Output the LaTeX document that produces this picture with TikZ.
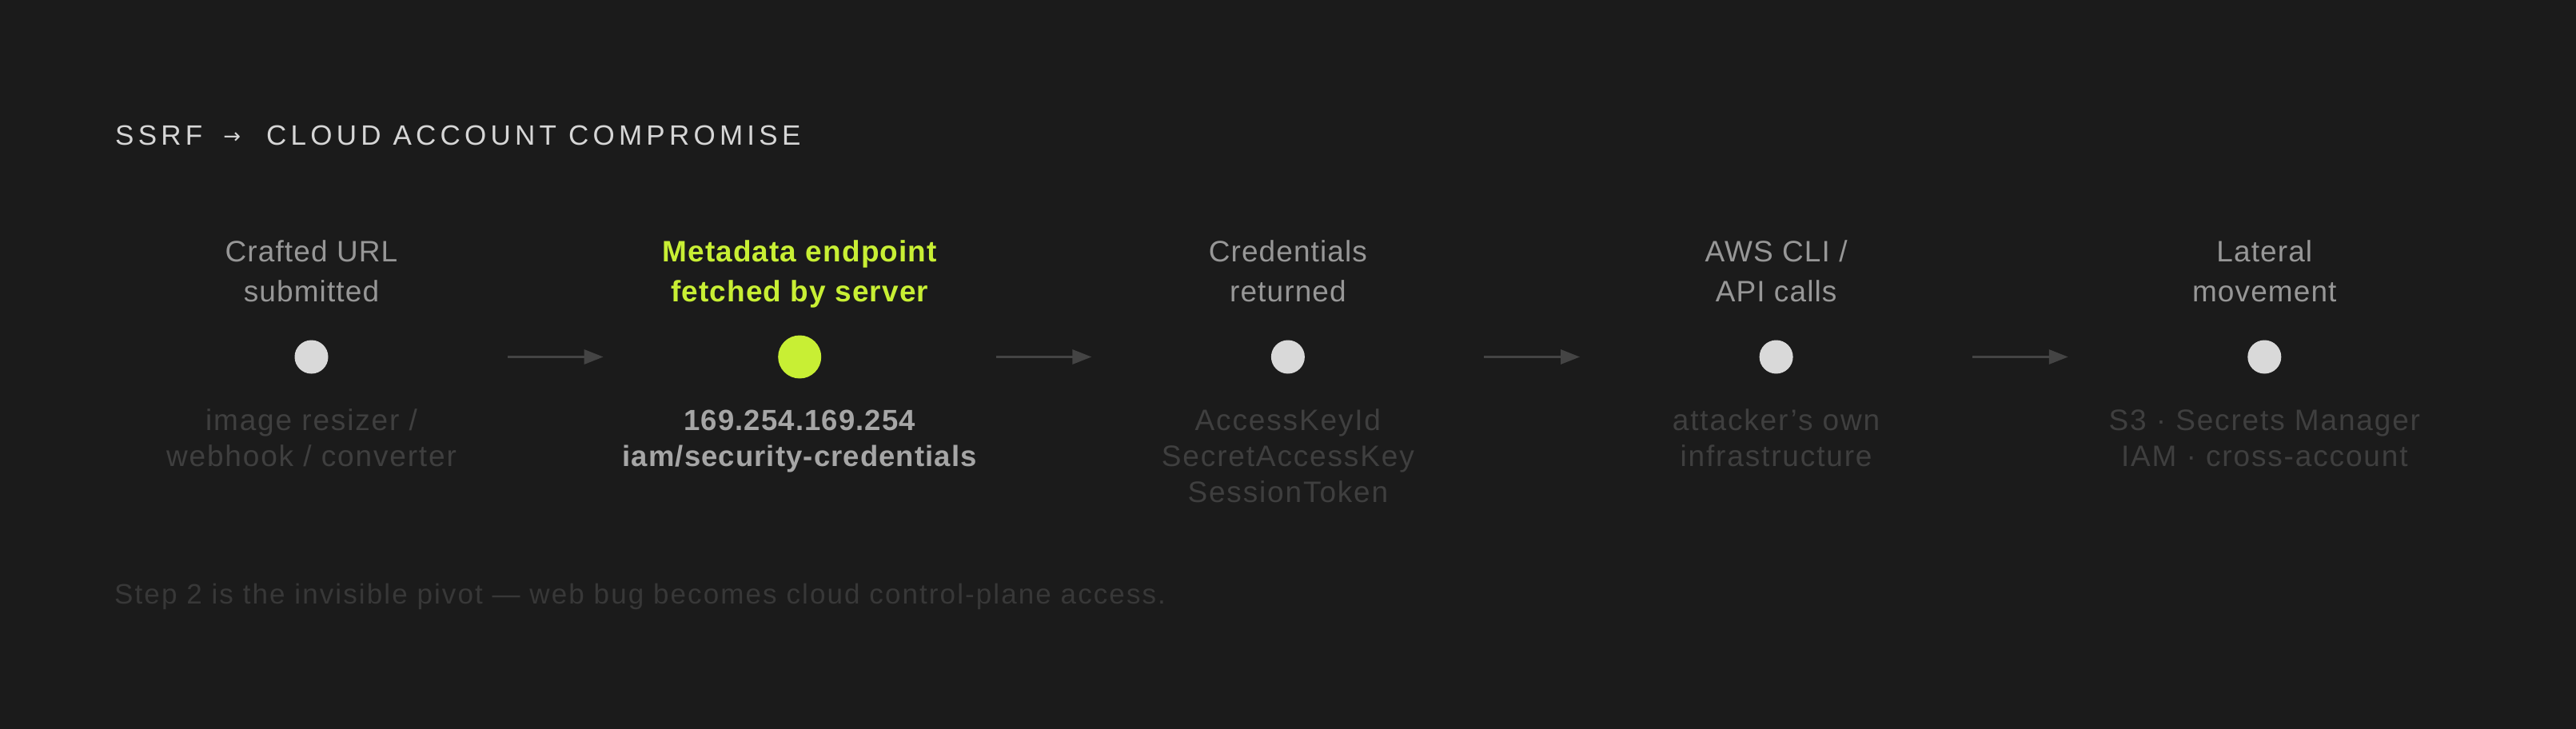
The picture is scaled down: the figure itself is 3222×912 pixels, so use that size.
\documentclass[tikz,border=0pt]{standalone}
\usepackage{fontspec}
\setmainfont{Liberation Sans}
\newfontfamily\titlefont[LetterSpace=15]{Liberation Sans}
\newfontfamily\arrowfont{DejaVu Sans}
\newfontfamily\labfont[LetterSpace=3]{Liberation Sans}
\newfontfamily\subfont[LetterSpace=5]{Liberation Sans}
\newfontfamily\notefont[LetterSpace=6]{Liberation Sans}
\usetikzlibrary{arrows.meta}
\definecolor{bg}{HTML}{1B1B1B}
\definecolor{titlec}{HTML}{D6D6D6}
\definecolor{labc}{HTML}{979797}
\definecolor{dimc}{HTML}{3F3F3F}
\definecolor{hotc}{HTML}{C8EF34}
\definecolor{hotsub}{HTML}{A6A6A6}
\definecolor{dotc}{HTML}{D9D9D9}
\definecolor{arrc}{HTML}{444444}
\definecolor{notec}{HTML}{383838}
\begin{document}
\begin{tikzpicture}[x=1pt,y=-1pt,
  dot/.style={circle, fill=dotc, minimum size=42pt, inner sep=0pt},
  hotdot/.style={circle, fill=hotc, minimum size=54pt, inner sep=0pt},
  toplab/.style={anchor=base, inner sep=0pt, align=center, text=labc, font=\labfont\fontsize{37}{50}\selectfont},
  hotlab/.style={toplab, text=hotc, font=\labfont\bfseries\fontsize{37}{50}\selectfont},
  botlab/.style={anchor=base, inner sep=0pt, align=center, text=dimc, font=\subfont\fontsize{37}{45}\selectfont},
  hotbot/.style={botlab, text=hotsub, font=\labfont\bfseries\fontsize{36.5}{45}\selectfont},
  flow/.style={draw=arrc, line width=3pt, -{Triangle[length=24pt,width=18pt]}, fill=arrc},
]
\fill[bg] (0,0) rectangle (3222,912);
\useasboundingbox (0,0) rectangle (3222,912);

\node[anchor=base west, inner sep=0pt, text=titlec, font=\titlefont\fontsize{35}{40}\selectfont] (title) at (144,182)
  {SSRF\hspace{26pt}\raisebox{2.5pt}{\arrowfont\fontsize{26}{26}\selectfont →}\hspace{32pt}CLOUD ACCOUNT COMPROMISE};

\node[dot]    (c1) at (389.5,446.5) {};
\node[hotdot] (c2) at (1000.2,446.5) {};
\node[dot]    (c3) at (1610.9,446.5) {};
\node[dot]    (c4) at (2221.6,446.5) {};
\node[dot]    (c5) at (2832.3,446.5) {};

\node[toplab] (t1) at (389.5,377) {Crafted URL\\submitted};
\node[hotlab] (t2) at (1000.2,377) {Metadata endpoint\\fetched by server};
\node[toplab] (t3) at (1610.9,377) {Credentials\\returned};
\node[toplab] (t4) at (2221.6,377) {AWS CLI /\\API calls};
\node[toplab] (t5) at (2832.3,377) {Lateral\\movement};

\node[botlab] (b1) at (389.5,583) {image resizer /\\webhook / converter};
\node[hotbot] (b2) at (1000.2,583) {169.254.169.254\\iam/security-credentials};
\node[botlab] (b3) at (1610.9,628) {AccessKeyId\\SecretAccessKey\\SessionToken};
\node[botlab] (b4) at (2221.6,583) {attacker’s own\\infrastructure};
\node[botlab] (b5) at (2832.3,583) {S3 · Secrets Manager\\IAM · cross-account};

\draw[flow, shorten <=224.35pt, shorten >=218.35pt] (c1) -- (c2);
\draw[flow, shorten <=218.35pt, shorten >=224.35pt] (c2) -- (c3);
\draw[flow, shorten <=224.35pt, shorten >=224.35pt] (c3) -- (c4);
\draw[flow, shorten <=224.35pt, shorten >=224.35pt] (c4) -- (c5);

\node[anchor=base west, inner sep=0pt, text=notec, font=\notefont\fontsize{35}{40}\selectfont] (note) at (143,755)
  {Step 2 is the invisible pivot — web bug becomes cloud control-plane access.};
\end{tikzpicture}
\end{document}
